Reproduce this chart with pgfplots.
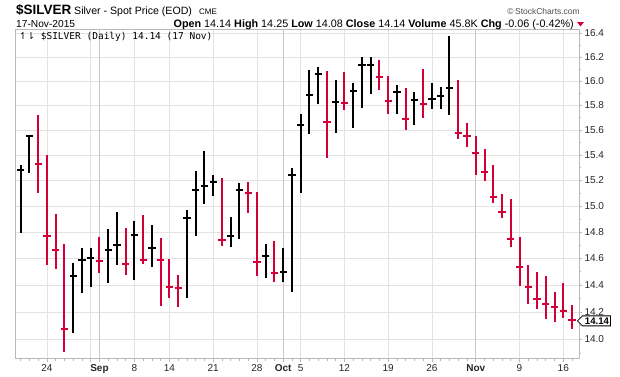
\documentclass[border=0pt]{standalone}
\usepackage{pgfplots}
\pgfplotsset{compat=1.18}
\usepackage{pgfplotstable}
\usepackage{fontspec}
\setmainfont{Liberation Sans}
\newfontfamily\dvs{DejaVu Sans}
\newfontfamily\dvsm{DejaVu Sans Mono}
\definecolor{scred}{RGB}{210,0,55}
\definecolor{gridc}{RGB}{226,226,226}
\definecolor{monthc}{RGB}{200,200,200}
\definecolor{framec}{RGB}{185,185,185}

% index, high, low, close  (trading days from 19-Aug-2015 to 17-Nov-2015)
\pgfplotstableread{
i h l c
0 15.32 14.79 15.28
1 15.56 15.255 15.55
6 14.562 14.046 14.466
7 14.676 14.343 14.587
8 14.676 14.383 14.605
10 14.82 14.418 14.663
11 14.951 14.547 14.701
13 14.882 14.435 14.777
15 14.851 14.532 14.681
19 14.967 14.306 14.908
20 15.274 14.77 15.123
21 15.432 15.015 15.154
22 15.245 15.077 15.185
24 14.913 14.684 14.77
25 15.179 14.747 15.123
28 14.706 14.451 14.618
30 14.676 14.425 14.496
31 15.30 14.351 15.242
32 15.733 15.10 15.64
33 16.094 15.568 15.89
34 16.117 15.814 16.056
36 16.011 15.581 15.83
38 15.984 15.616 15.918
39 16.20 15.781 16.131
40 16.20 15.896 16.135
43 15.967 15.733 15.907
45 15.915 15.64 15.844
47 15.984 15.768 15.849
48 15.951 15.773 15.874
49 16.378 15.72 15.945
}\blackdata

\pgfplotstableread{
i h l c
2 15.72 15.10 15.326
3 15.397 14.55 14.77
4 14.936 14.519 14.663
5 14.706 13.908 14.08
9 14.759 14.486 14.577
12 14.828 14.473 14.557
14 14.933 14.557 14.587
16 14.752 14.244 14.587
17 14.592 14.306 14.385
18 14.478 14.237 14.375
23 15.218 14.691 14.742
26 15.19 14.946 15.103
27 15.113 14.466 14.572
29 14.729 14.425 14.489
35 16.086 15.374 15.669
37 16.078 15.76 15.82
41 16.172 15.929 16.039
42 16.042 15.733 15.833
44 15.945 15.605 15.691
46 16.103 15.701 15.814
50 16.008 15.532 15.578
51 15.659 15.468 15.549
52 15.554 15.245 15.414
53 15.449 15.197 15.263
54 15.324 15.021 15.067
55 15.097 14.905 14.954
56 15.051 14.684 14.747
57 14.765 14.39 14.534
58 14.552 14.257 14.383
59 14.494 14.225 14.294
60 14.466 14.147 14.262
61 14.351 14.13 14.237
62 14.415 14.159 14.205
63 14.25 14.08 14.14
}\reddata

\begin{document}
\begin{tikzpicture}[x=1pt,y=1pt]
\useasboundingbox (0,0) rectangle (620,376);
\begin{axis}[
  at={(16pt,17pt)}, anchor=south west,
  scale only axis, width=563pt, height=329pt,
  ymode=log, ymin=13.86, ymax=16.43,
  xmin=-0.54, xmax=63.8,
  clip=false,
  ytick={14,14.2,14.4,14.6,14.8,15,15.2,15.4,15.6,15.8,16,16.2,16.4},
  yticklabels={14.0,14.2,14.4,14.6,14.8,15.0,15.2,15.4,15.6,15.8,16.0,16.2,16.4},
  minor ytick={13.9,14.1,14.3,14.5,14.7,14.9,15.1,15.3,15.5,15.7,15.9,16.1,16.3},
  ytick pos=right, yticklabel pos=right,
  xtick pos=bottom,
  tick align=outside,
  major tick length=3pt, minor tick length=2pt,
  tick style={framec, line width=0.7pt},
  grid=major,
  major grid style={gridc, line width=0.8pt},
  axis line style={framec, line width=1pt},
  xtick={3,8,13,17,22,27,32,37,42,47,57,62},
  xticklabels={24,,8,14,21,28,5,12,19,26,9,16},
  extra x ticks={9,30,52},
  extra x tick labels={\textbf{Sep},\textbf{Oct},\textbf{Nov}},
  extra x tick style={major grid style={monthc, line width=1pt}},
  minor xtick={0,...,63},
  ticklabel style={font=\fontsize{10}{12}\selectfont, text=black!85},
  xticklabel style={yshift=1pt},
  yticklabel style={xshift=-1pt},
]
\addplot[only marks, black, mark=-, mark size=3.6pt,
  mark options={line width=2pt, black},
  error bars/.cd, y dir=both, y explicit, error mark=none,
  error bar style={line width=2pt, black}]
  table[x=i, y=c, y error plus expr={\thisrow{h}-\thisrow{c}},
        y error minus expr={\thisrow{c}-\thisrow{l}}] {\blackdata};
\addplot[only marks, scred, mark=-, mark size=3.6pt,
  mark options={line width=2pt, scred},
  error bars/.cd, y dir=both, y explicit, error mark=none,
  error bar style={line width=2pt, scred}]
  table[x=i, y=c, y error plus expr={\thisrow{h}-\thisrow{c}},
        y error minus expr={\thisrow{c}-\thisrow{l}}] {\reddata};
\coordinate (lp) at (axis cs:63.8,14.14);
\end{axis}
% last-price marker
\draw[fill=white, line width=0.8pt] ([xshift=-1.5pt,yshift=-0.5pt]lp) -- ++(5pt,5pt) -- ++(28pt,0pt) -- ++(0pt,-10pt) -- ++(-28pt,0pt) -- cycle;
\node[inner sep=0pt, anchor=center, font=\fontsize{9.6}{10}\selectfont\bfseries] at ([xshift=18pt,yshift=-0.8pt]lp) {14.14};
% header
\node[anchor=base west, inner sep=0pt] at (16,362) {\fontsize{13.5}{14}\selectfont\bfseries \$SILVER};
\node[anchor=base west, inner sep=0pt] at (74,362) {\fontsize{10.6}{12}\selectfont Silver - Spot Price (EOD)};
\node[anchor=base west, inner sep=0pt] at (199,362) {\fontsize{8}{10}\selectfont CME};
\node[anchor=base east, inner sep=0pt, text=black!70] at (580,362) {\fontsize{8.5}{10}\selectfont \textcopyright\,StockCharts.com};
\node[anchor=base west, inner sep=0pt] at (16,349) {\fontsize{10.2}{12}\selectfont 17-Nov-2015};
\node[anchor=base east, inner sep=0pt] at (574,349) {\fontsize{10.8}{12}\selectfont \textbf{Open} 14.14 \textbf{High} 14.25 \textbf{Low} 14.08 \textbf{Close} 14.14 \textbf{Volume} 45.8K \textbf{Chg} -0.06 (-0.42\%)};
\fill[scred] (577,354) -- (584,354) -- (580.5,349.5) -- cycle;
\node[anchor=base west, inner sep=0pt] at (19,336.5) {\fontsize{9.5}{10}\selectfont {\dvs\fontsize{9.5}{10}\selectfont ↿⇂}{\dvsm\ \$SILVER (Daily) 14.14 (17 Nov)}};
\end{tikzpicture}
\end{document}
